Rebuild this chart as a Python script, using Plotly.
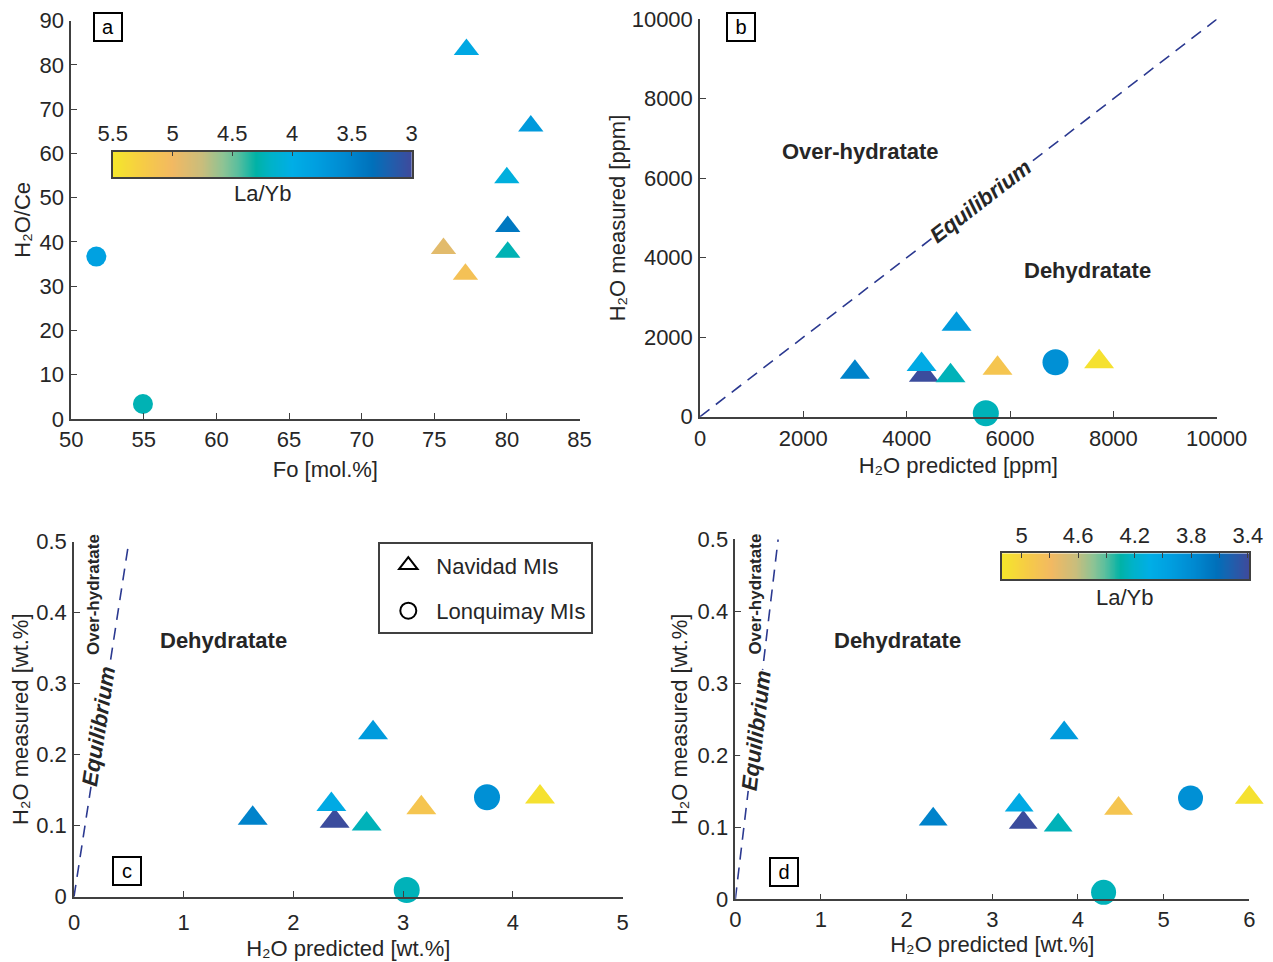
import numpy as np
import plotly.graph_objects as go

# ---------------- data ----------------
# Navidad melt inclusions (triangles) and Lonquimay melt inclusions (circles)
navidad_la_yb = [3.40, 3.74, 4.05, 3.915, 4.25, 4.90, 5.10]
lonquimay_la_yb = [3.83, 4.25]

# (a) olivine Fo content vs H2O/Ce
navidad_fo = [80.05, 81.64, 79.99, 77.21, 80.05, 75.63, 77.14]
navidad_h2o_ce = [43.5, 66.2, 54.5, 83.5, 37.7, 38.5, 32.7]
lonquimay_fo = [51.73, 54.94]
lonquimay_h2o_ce = [36.7, 3.4]

# (b) predicted vs measured H2O [ppm]
navidad_pred_ppm = [4333, 2998, 4288, 4965, 4849, 5758, 7724]
navidad_meas_ppm = [1045, 1120, 1312, 2326, 1030, 1219, 1383]
lonquimay_pred_ppm = [6880, 5532]
lonquimay_meas_ppm = [1369, 86]

# (c) predicted vs measured H2O [wt.%]
navidad_pred_c = [2.376, 1.629, 2.346, 2.726, 2.668, 3.166, 4.248]
navidad_meas_c = [0.1064, 0.1104, 0.1298, 0.2309, 0.1024, 0.1254, 0.1404]
lonquimay_pred_c = [3.765, 3.033]
lonquimay_meas_c = [0.140, 0.0094]

# (d) predicted vs measured H2O [wt.%], alternative model
navidad_pred_d = [3.361, 2.310, 3.314, 3.839, 3.769, 4.474, 6.00]
navidad_meas_d = [0.1065, 0.1111, 0.1306, 0.2311, 0.1028, 0.126, 0.1415]
lonquimay_pred_d = [5.314, 4.299]
lonquimay_meas_d = [0.1407, 0.0097]

# 1:1 equilibrium lines
eq_ppm = [0, 10000]
eq_wt = [0, 0.5]

# colour ranges of the two La/Yb scales
cbar_a_range = (3.0, 5.5)
cbar_a_ticks = [5.5, 5, 4.5, 4, 3.5, 3]
cbar_d_range = (3.39, 5.14)
cbar_d_ticks = [5.0, 4.6, 4.2, 3.8, 3.4]

# ---------------- styling ----------------
FONT = "Liberation Sans, Arial, Helvetica, sans-serif"
TXT = "#262626"
AX = "#404040"
EQ_COLOR = "#2B3990"
FS = 22

la_yb_scale = [
    [0.00, "#3E4A9C"],
    [0.07, "#1F5FAD"],
    [0.13, "#0070BA"],
    [0.22, "#0089D0"],
    [0.32, "#009FE0"],
    [0.40, "#00AEE6"],
    [0.47, "#00B2C8"],
    [0.52, "#00B2A6"],
    [0.58, "#59BE9E"],
    [0.63, "#8EC394"],
    [0.70, "#C9BD7C"],
    [0.80, "#F2B962"],
    [0.90, "#F6CC45"],
    [1.00, "#F5E72A"],
]

W, H = 1273, 962


def px_x(p):
    return p / W


def px_y(p):
    return 1 - p / H


fig = go.Figure()


def add_points(xs, ys, la_yb, crange, symbol, size, xa, ya):
    fig.add_trace(go.Scatter(
        x=xs, y=ys, mode="markers", xaxis=xa, yaxis=ya,
        cliponaxis=False, showlegend=False,
        marker=dict(symbol=symbol, size=size, color=la_yb,
                    colorscale=la_yb_scale, cmin=crange[0], cmax=crange[1],
                    line=dict(width=0)),
        hovertemplate="%{x}, %{y}<extra></extra>",
    ))


def add_eq(xs, ys, xa, ya):
    fig.add_trace(go.Scatter(
        x=xs, y=ys, mode="lines", xaxis=xa, yaxis=ya, showlegend=False,
        line=dict(color=EQ_COLOR, width=1.6, dash="12px,8px"),
        hoverinfo="skip",
    ))


# (a)
add_points(navidad_fo, navidad_h2o_ce, navidad_la_yb, cbar_a_range, "triangle-up", 22, "x", "y")
add_points(lonquimay_fo, lonquimay_h2o_ce, lonquimay_la_yb, cbar_a_range, "circle", 20, "x", "y")

# (b)
add_eq(eq_ppm, eq_ppm, "x2", "y2")
add_points(navidad_pred_ppm, navidad_meas_ppm, navidad_la_yb, cbar_d_range, "triangle-up", 26, "x2", "y2")
add_points(lonquimay_pred_ppm, lonquimay_meas_ppm, lonquimay_la_yb, cbar_d_range, "circle", 26, "x2", "y2")

# (c)
add_eq(eq_wt, eq_wt, "x3", "y3")
add_points(navidad_pred_c, navidad_meas_c, navidad_la_yb, cbar_d_range, "triangle-up", 26, "x3", "y3")
add_points(lonquimay_pred_c, lonquimay_meas_c, lonquimay_la_yb, cbar_d_range, "circle", 26, "x3", "y3")

# (d)
add_eq(eq_wt, eq_wt, "x4", "y4")
add_points(navidad_pred_d, navidad_meas_d, navidad_la_yb, cbar_d_range, "triangle-up", 25, "x4", "y4")
add_points(lonquimay_pred_d, lonquimay_meas_d, lonquimay_la_yb, cbar_d_range, "circle", 25, "x4", "y4")

# legend entries (open black symbols)
fig.add_trace(go.Scatter(x=[None], y=[None], mode="markers", name="Navidad MIs",
                         xaxis="x3", yaxis="y3", legendgroup="nav",
                         marker=dict(symbol="triangle-up-open", size=16, color="black",
                                     line=dict(width=2, color="black"))))
fig.add_trace(go.Scatter(x=[None], y=[None], mode="markers", name="Lonquimay MIs",
                         xaxis="x3", yaxis="y3", legendgroup="lon",
                         marker=dict(symbol="circle-open", size=16, color="black",
                                     line=dict(width=2, color="black"))))


# La/Yb colour bars drawn as gradient strips on their own small axes
def add_cbar(crange, xa, ya):
    grad = np.linspace(crange[0], crange[1], 300)
    fig.add_trace(go.Heatmap(
        x=grad, y=[0], z=[grad], xaxis=xa, yaxis=ya,
        colorscale=la_yb_scale, zmin=crange[0], zmax=crange[1],
        showscale=False, hoverinfo="skip",
    ))


add_cbar(cbar_a_range, "x5", "y5")
add_cbar(cbar_d_range, "x6", "y6")


def axis(domain, rng, dtick, title, standoff=6, label_gap=0, **kw):
    d = dict(
        domain=domain, range=rng, dtick=dtick, tick0=0, automargin=False,
        showline=True, linecolor=AX, linewidth=1.5, mirror=False,
        ticks="inside", ticklen=6, tickwidth=1.4, tickcolor=AX,
        showgrid=False, zeroline=False, exponentformat="none", separatethousands=False,
        tickfont=dict(family=FONT, size=FS, color=TXT),
        ticklabelstandoff=label_gap,
        title=dict(text=title, font=dict(family=FONT, size=FS, color=TXT), standoff=standoff),
    )
    d.update(kw)
    return d


def cbar_axes(domain_x, domain_y, crange, ticks, anchor_x, anchor_y, minor=None):
    xa = dict(domain=domain_x, range=[crange[1], crange[0]], automargin=False,
              anchor=anchor_y, side="top", tickvals=ticks,
              ticktext=[f"{v:g}" for v in ticks],
              ticks="inside", ticklen=5, tickwidth=1.4, tickcolor=AX,
              showline=True, mirror=True, linecolor=AX, linewidth=1.5,
              showgrid=False, zeroline=False, ticklabelstandoff=0,
              tickfont=dict(family=FONT, size=FS, color=TXT))
    if minor:
        xa["minor"] = minor
    ya = dict(domain=domain_y, range=[-0.5, 0.5], anchor=anchor_x, automargin=False,
              showticklabels=False, ticks="", showline=True, mirror=True,
              linecolor=AX, linewidth=1.5, showgrid=False, zeroline=False)
    return xa, ya


xa5, ya5 = cbar_axes([px_x(112.7), px_x(411.7)], [px_y(177.3), px_y(151.7)],
                     cbar_a_range, cbar_a_ticks, "x5", "y5")
xa6, ya6 = cbar_axes([px_x(1001.7), px_x(1249.3)], [px_y(579.3), px_y(553.3)],
                     cbar_d_range, cbar_d_ticks, "x6", "y6",
                     minor=dict(dtick=0.2, tick0=3.4, ticks="inside", ticklen=5,
                                tickcolor=AX, showgrid=False))

layout = dict(
    width=W, height=H, margin=dict(l=0, r=0, t=0, b=0, autoexpand=False),
    paper_bgcolor="white", plot_bgcolor="white",
    font=dict(family=FONT, size=FS, color=TXT),
    showlegend=True,
    legend=dict(x=px_x(378.3), y=px_y(542.3), xanchor="left", yanchor="top",
                bordercolor=AX, borderwidth=2, bgcolor="white",
                font=dict(family=FONT, size=FS, color=TXT),
                itemwidth=46, tracegroupgap=14, entrywidth=182, entrywidthmode="pixels"),
    # (a)
    xaxis=axis([px_x(71.2), px_x(579.6)], [50, 85], 5, "Fo [mol.%]", anchor="y", standoff=10),
    yaxis=axis([px_y(419), px_y(20.7)], [0, 90], 10, "H₂O/Ce", anchor="x", standoff=3, label_gap=1),
    # (b)
    xaxis2=axis([px_x(700), px_x(1216.7)], [0, 10000], 2000, "H₂O predicted [ppm]", anchor="y2",
                standoff=8, label_gap=1, tickformat="d"),
    yaxis2=axis([px_y(416.7), px_y(19.3)], [0, 10000], 2000, "H₂O measured [ppm]", anchor="x2",
                standoff=0, label_gap=1, tickformat="d"),
    # (c)
    xaxis3=axis([px_x(74), px_x(622.5)], [0, 5], 1, "H₂O predicted [wt.%]", anchor="y3",
                standoff=7, label_gap=5),
    yaxis3=axis([px_y(896.7), px_y(541.7)], [0, 0.5], 0.1, "H₂O measured [wt.%]", anchor="x3",
                standoff=2, label_gap=1),
    # (d)
    xaxis4=axis([px_x(735.3), px_x(1249.3)], [0, 6], 1, "H₂O predicted [wt.%]", anchor="y4",
                standoff=5),
    yaxis4=axis([px_y(899.3), px_y(539.3)], [0, 0.5], 0.1, "H₂O measured [wt.%]", anchor="x4",
                standoff=4, label_gap=1),
    xaxis5=xa5, yaxis5=ya5,
    xaxis6=xa6, yaxis6=ya6,
)
fig.update_layout(**layout)

ann = []


def label_box(letter, cx, cy):
    ann.append(dict(text=letter, x=px_x(cx), y=px_y(cy), xref="paper", yref="paper",
                    xanchor="center", yanchor="middle",
                    showarrow=False, font=dict(family=FONT, size=20, color="black"),
                    bordercolor="black", borderwidth=2, borderpad=1,
                    width=24, height=24, bgcolor="white"))


label_box("a", 108, 27)
label_box("b", 741, 27)
label_box("c", 127, 871)
label_box("d", 784, 872)

bold = dict(family=FONT, size=FS, color=TXT)
small_bold = dict(family=FONT, size=17, color=TXT)


def note(text, x, y, xref, yref, font, **kw):
    ann.append(dict(text=text, x=x, y=y, xref=xref, yref=yref, showarrow=False,
                    xanchor="center", yanchor="middle", font=font, **kw))


# (b)
note("<b>Over-hydratate</b>", 3097, 6661, "x2", "y2", bold)
note("<b>Dehydratate</b>", 7490, 3686, "x2", "y2", bold)
note("<b><i>Equilibrium</i></b>", 5420, 5420, "x2", "y2", bold,
     textangle=-37.6, bgcolor="white", borderpad=0)
# (c)
note("<b>Dehydratate</b>", 1.367, 0.3615, "x3", "y3", bold)
note("<b>Over-hydratate</b>", 0.178, 0.4256, "x3", "y3", small_bold, textangle=-90)
note("<b><i>Equilibrium</i></b>", 0.223, 0.240, "x3", "y3", bold,
     textangle=-81.2, bgcolor="white", borderpad=0)
# (d)
note("<b>Dehydratate</b>", 1.899, 0.360, "x4", "y4", bold)
note("<b>Over-hydratate</b>", 0.225, 0.424, "x4", "y4", small_bold, textangle=-90)
note("<b><i>Equilibrium</i></b>", 0.24, 0.235, "x4", "y4", bold,
     textangle=-83.2, bgcolor="white", borderpad=0)
# colour bar titles
note("La/Yb", px_x(262.7), px_y(193.3), "paper", "paper", dict(family=FONT, size=FS, color=TXT))
note("La/Yb", px_x(1125), px_y(597.3), "paper", "paper", dict(family=FONT, size=FS, color=TXT))

fig.update_layout(annotations=ann)

fig.write_html("out.html")
